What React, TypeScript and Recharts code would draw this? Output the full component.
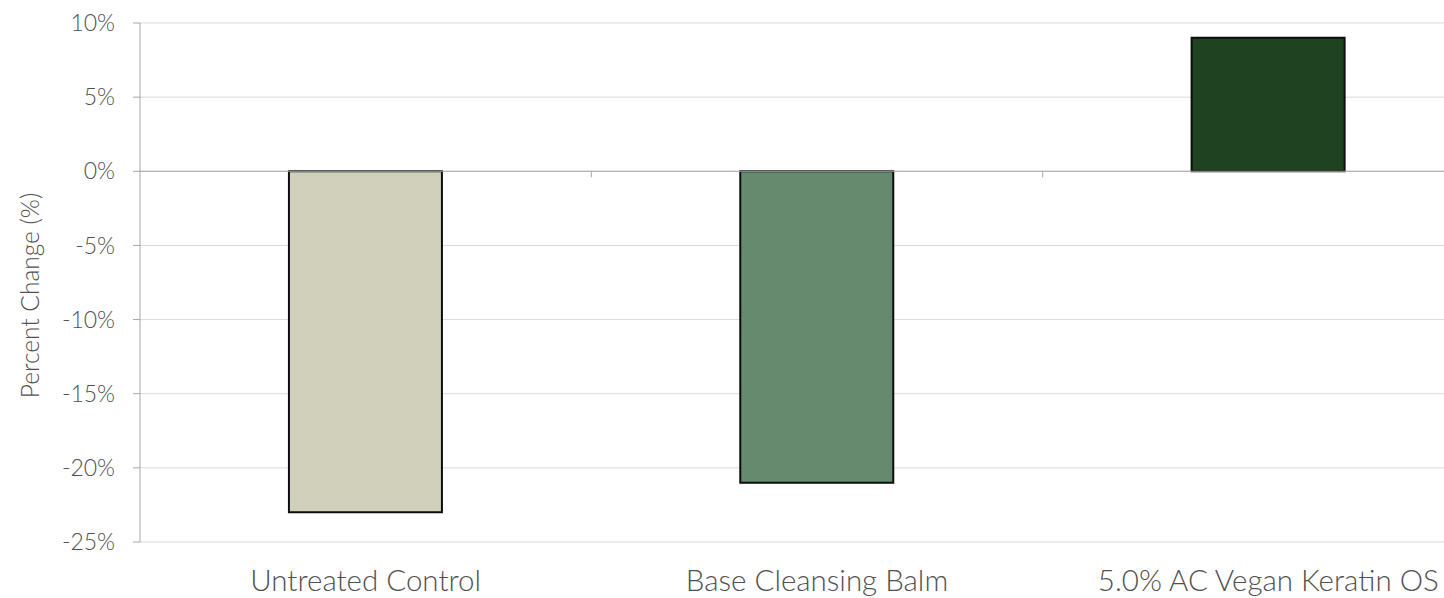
import React from "react";
import {
  BarChart,
  Bar,
  Cell,
  XAxis,
  YAxis,
  CartesianGrid,
  ReferenceLine,
  Label,
} from "recharts";

const categories = [
  "Untreated Control",
  "Base Cleansing Balm",
  "5.0% AC Vegan Keratin OS",
];
const percentChange = [-23, -21, 9];
const barColors = ["#d1d1bb", "#668a6d", "#1f4321"];
const yTicks = [-25, -20, -15, -10, -5, 0, 5, 10];
// category boundaries on the zero line (between bars)
const boundaryTicks = [0.5, 1.5];

const data = categories.map((name, i) => ({ name, v: percentChange[i], idx: i }));

const FONT = "Lato, 'Open Sans', sans-serif";
const textColor = "#505050";

export default function App() {
  return (
    <div
      style={{
        position: "absolute",
        left: 0,
        top: 0,
        width: 1444,
        height: 598,
        overflow: "hidden",
        background: "#fff",
      }}
    >
      <BarChart
        width={1500}
        height={598}
        data={data}
        margin={{ top: 23, right: 6, left: 0, bottom: 0 }}
        barCategoryGap="33%"
      >
        <CartesianGrid stroke="#d9d9d9" vertical={false} />
        <XAxis
          dataKey="name"
          height={56}
          axisLine={false}
          tickLine={false}
          tickSize={0}
          tickMargin={28}
          interval={0}
          tick={{ fill: textColor, fontSize: 29.5, fontWeight: 300, fontFamily: FONT }}
        />
        <XAxis
          xAxisId="num"
          dataKey="idx"
          type="number"
          domain={[-0.5, 2.5]}
          allowDataOverflow
          height={0}
          hide
        />
        <YAxis
          width={140}
          domain={[-25, 10]}
          ticks={yTicks}
          interval={0}
          tickFormatter={(v: number) => `${v}%`}
          axisLine={{ stroke: "#a6a6a6" }}
          tickLine={{ stroke: "#a6a6a6" }}
          tickSize={7}
          tickMargin={18}
          tick={{ fill: textColor, fontSize: 23, fontWeight: 300, fontFamily: FONT }}
        >
          <Label
            value="Percent Change (%)"
            angle={-90}
            position="center"
            dx={-40}
            dy={13}
            style={{
              fill: textColor,
              fontSize: 24.5,
              fontWeight: 300,
              fontFamily: FONT,
              textAnchor: "middle",
            }}
          />
        </YAxis>
        <ReferenceLine y={0} stroke="#a6a6a6" />
        {boundaryTicks.map((b) => (
          <ReferenceLine
            key={b}
            xAxisId="num"
            stroke="#a6a6a6"
            segment={[
              { x: b, y: 0 },
              { x: b, y: -0.4 },
            ]}
          />
        ))}
        <Bar
          dataKey="v"
          stroke="#0d0d0d"
          strokeWidth={2}
          isAnimationActive={false}
        >
          {data.map((d, i) => (
            <Cell key={d.name} fill={barColors[i]} />
          ))}
        </Bar>
      </BarChart>
    </div>
  );
}
